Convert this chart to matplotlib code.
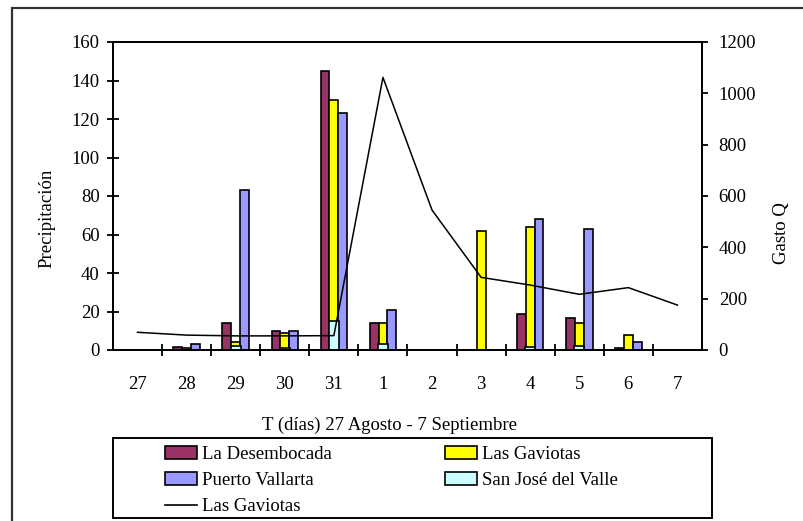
import matplotlib
matplotlib.use("Agg")
import matplotlib.pyplot as plt
import numpy as np
from matplotlib.patches import Patch, Rectangle
from matplotlib.lines import Line2D

# Daily precipitation (mm) per station and discharge at Las Gaviotas
dias = ['27', '28', '29', '30', '31', '1', '2', '3', '4', '5', '6', '7']
la_desembocada = [0, 1.5, 14, 10, 145, 14, 0, 0, 18.5, 16.5, 0.8, 0]
las_gaviotas = [0, 1, 4, 9, 130, 14, 0, 62, 64, 14, 8, 0]
puerto_vallarta = [0, 3, 83, 10, 123, 21, 0, 0, 68, 63, 4, 0]
san_jose_del_valle = [0, 0, 2, 1, 15, 3, 0, 0, 1.5, 2, 0, 0]
gasto_q = [69, 58, 55, 55, 56, 1062, 545, 283, 253, 217, 243, 175]

y_ticks_left = [0, 20, 40, 60, 80, 100, 120, 140, 160]
y_ticks_right = [0, 200, 400, 600, 800, 1000, 1200]

C_DES = '#993366'
C_GAV = '#FFFF00'
C_PV = '#9999FF'
C_SJ = '#CCFFFF'

FONT = 'Liberation Serif'
FS = 13.5
plt.rcParams['font.family'] = [FONT, 'DejaVu Serif']

W, H = 804, 521
fig = plt.figure(figsize=(W / 100, H / 100), dpi=100)

def fx(px):
    return px / W

def fy(py):
    return 1 - py / H

# Outer chart frame
fig.patches.append(Rectangle((fx(12), fy(530)), fx(820) - fx(12), fy(8) - fy(530),
                             transform=fig.transFigure, fill=False,
                             edgecolor='#333333', linewidth=1.6))

ax = fig.add_axes([fx(113), fy(350), fx(702) - fx(113), fy(42) - fy(350)])
ax2 = ax.twinx()

x = np.arange(len(dias))
bw = 0.18
ax.bar(x - bw, la_desembocada, bw, color=C_DES, edgecolor='black', linewidth=1.2, zorder=2)
ax.bar(x, las_gaviotas, bw, color=C_GAV, edgecolor='black', linewidth=1.2, zorder=2)
ax.bar(x + bw, puerto_vallarta, bw, color=C_PV, edgecolor='black', linewidth=1.2, zorder=2)
ax.bar(x, san_jose_del_valle, 0.2, color=C_SJ, edgecolor='black', linewidth=1.2, zorder=3)

ax2.plot(x, gasto_q, color='black', linewidth=1.1)

ax.set_xlim(-0.5, len(dias) - 0.5)
ax.set_ylim(0, 160)
ax2.set_ylim(0, 1200)

ax.set_yticks(y_ticks_left)
ax.set_yticklabels([str(v) for v in y_ticks_left], fontsize=FS)
ax2.set_yticks(y_ticks_right)
ax2.set_yticklabels([str(v) for v in y_ticks_right], fontsize=FS)

ax.set_xticks(x)
ax.set_xticklabels(dias, fontsize=FS)
ax.set_xticks(np.arange(0.5, len(dias) - 0.5, 1.0), minor=True)
ax.tick_params(axis='x', which='major', length=0, pad=19)
ax.tick_params(axis='x', which='minor', direction='inout', length=8.5, width=1.3)
ax.tick_params(axis='y', direction='inout', length=9, width=1.3, pad=5)
ax2.tick_params(axis='y', direction='out', length=4, width=1.3, pad=8)

for a in (ax, ax2):
    for s in a.spines.values():
        s.set_linewidth(1.4)

fig.text(fx(47), fy(218), 'Precipitación', rotation=90, ha='center', va='center', fontsize=FS)
fig.text(fx(782), fy(233), 'Gasto Q', rotation=90, ha='center', va='center', fontsize=FS)
fig.text(fx(390), fy(425), 'T (días) 27 Agosto - 7 Septiembre', ha='center', va='center', fontsize=FS)

# Legend box
fig.patches.append(Rectangle((fx(113), fy(518)), fx(712) - fx(113), fy(438) - fy(518),
                             transform=fig.transFigure, fill=False,
                             edgecolor='black', linewidth=1.4, zorder=5))

col1 = [
    Patch(facecolor=C_DES, edgecolor='black', linewidth=1.2, label='La Desembocada'),
    Patch(facecolor=C_PV, edgecolor='black', linewidth=1.2, label='Puerto Vallarta'),
    Line2D([], [], color='black', linewidth=1.2, label='Las Gaviotas'),
]
col2 = [
    Patch(facecolor=C_GAV, edgecolor='black', linewidth=1.2, label='Las Gaviotas'),
    Patch(facecolor=C_SJ, edgecolor='black', linewidth=1.2, label='San José del Valle'),
]
leg_kw = dict(loc='upper left', fontsize=FS, frameon=False,
              handlelength=1.7, handleheight=0.68, handletextpad=0.3,
              labelspacing=0.48, borderpad=0, borderaxespad=0)
leg1 = fig.legend(handles=col1, bbox_to_anchor=(fx(165), fy(446)), **leg_kw)
leg2 = fig.legend(handles=col2, bbox_to_anchor=(fx(445), fy(446)), **leg_kw)

fig.savefig('out.png', dpi=100)
